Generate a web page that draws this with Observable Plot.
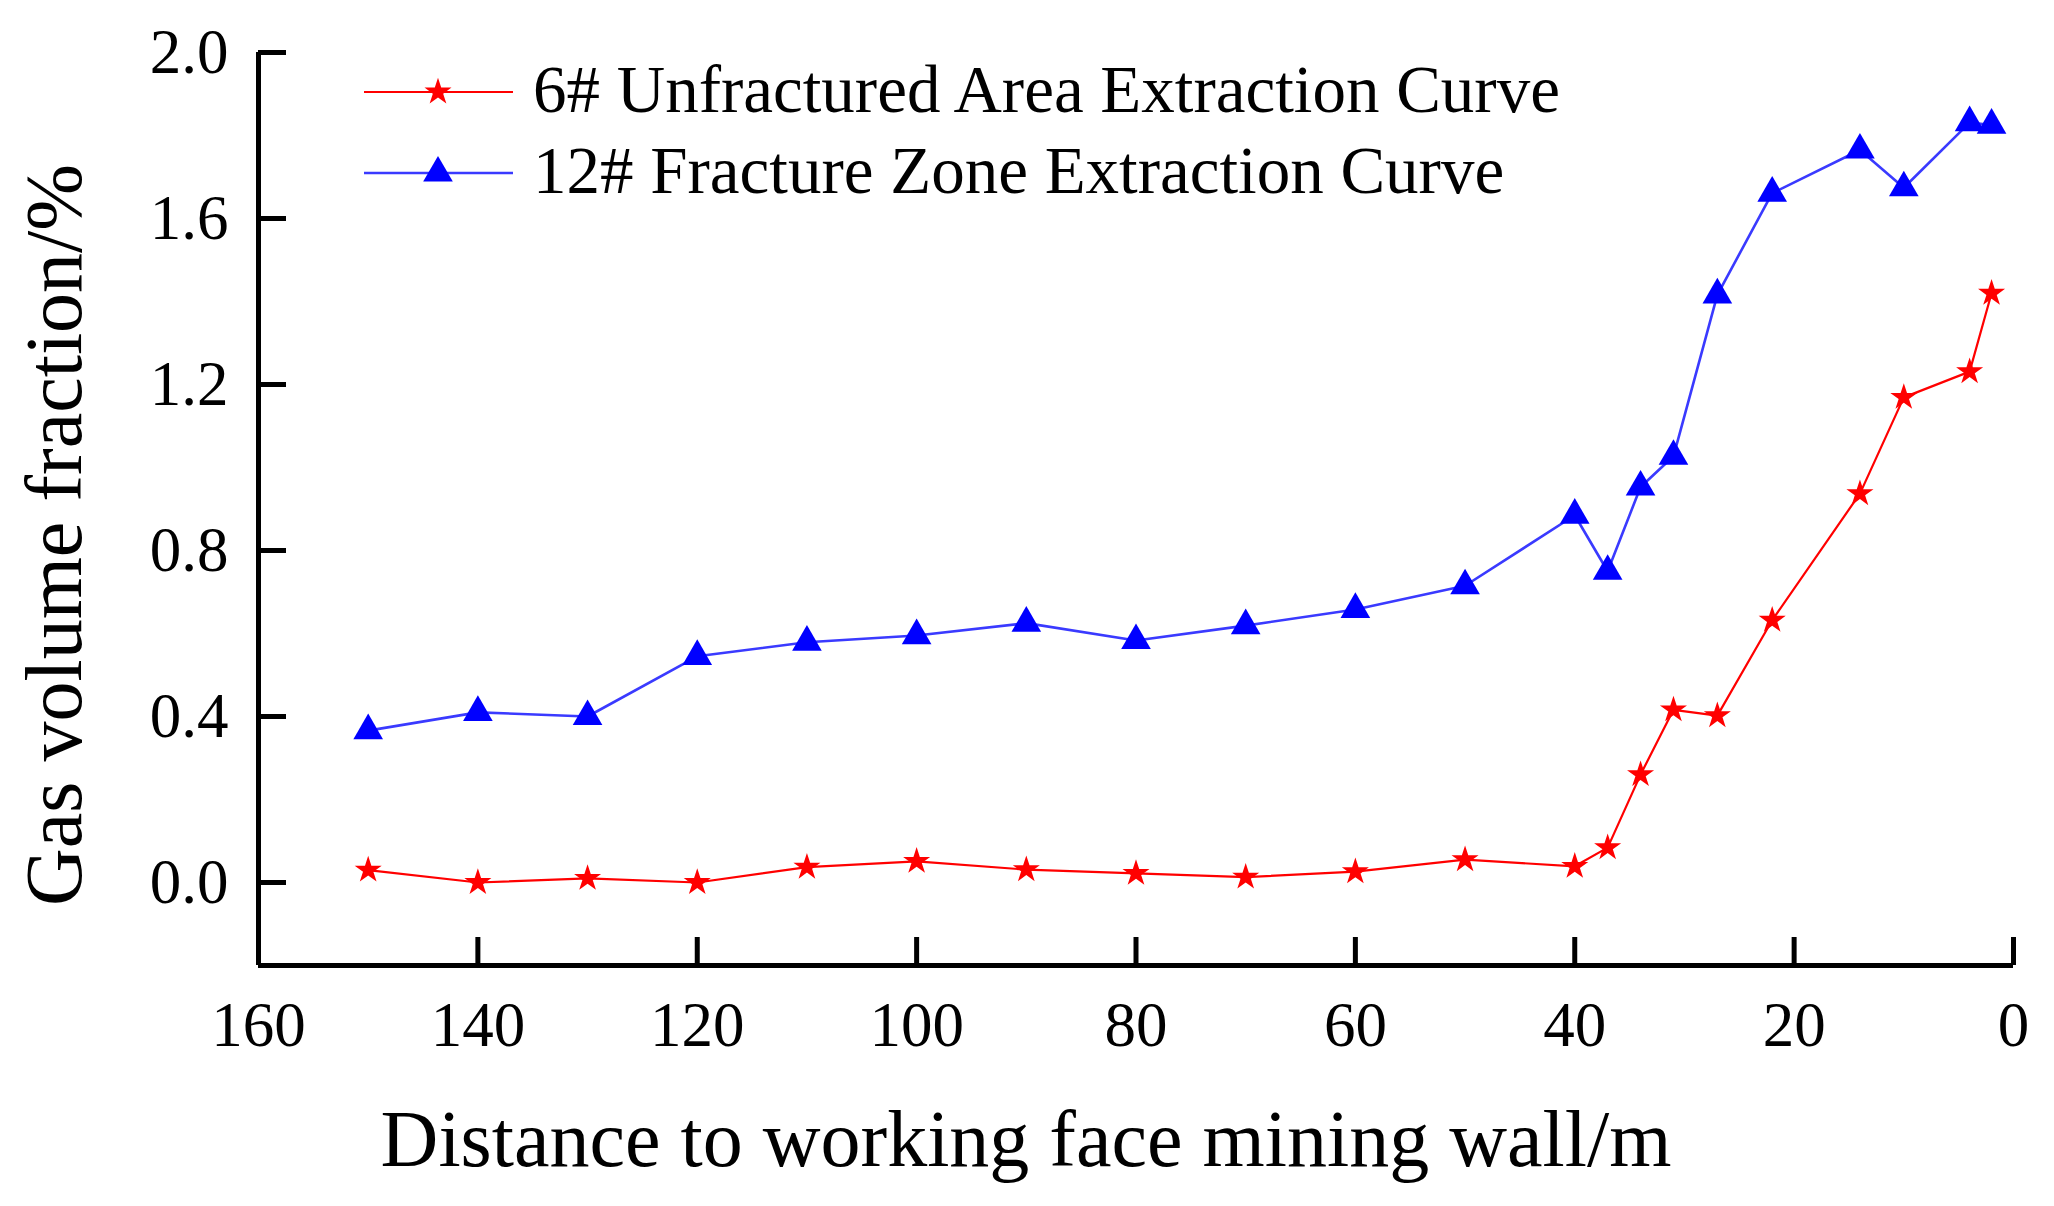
<!DOCTYPE html>
<html><head><meta charset="utf-8">
<script src="https://cdn.jsdelivr.net/npm/d3@7"></script>
<script src="https://cdn.jsdelivr.net/npm/@observablehq/plot@0.6"></script>
<style>
html,body{margin:0;padding:0;background:#fff;}
#wrap{position:relative;width:2054px;height:1206px;overflow:hidden;}
#legend{position:absolute;left:0;top:0;}
</style></head><body><div id="wrap"></div>
<script>
// Distance to working face (m)
const distance = [150,140,130,120,110,100,90,80,70,60,50,40,37,34,31,27,22,14,10,4,2];
// 6# Unfractured area (%)
const unfractured = [0.030,0.000,0.010,0.000,0.037,0.051,0.031,0.022,0.013,0.026,0.055,0.039,0.084,0.260,0.416,0.402,0.632,0.937,1.169,1.231,1.420];
// 12# Fracture zone (%)
const fracture = [0.366,0.410,0.400,0.545,0.579,0.595,0.625,0.583,0.619,0.658,0.715,0.885,0.750,0.953,1.027,1.416,1.661,1.765,1.674,1.831,1.825];
const xTicks = [160,140,120,100,80,60,40,20,0];
const yTicks = [0,0.4,0.8,1.2,1.6,2.0];
const seriesNames = ["6# Unfractured Area Extraction Curve","12# Fracture Zone Extraction Curve"];
const xTitle = "Distance to working face mining wall/m";
const yTitle = "Gas volume fraction/%";

const redData = distance.map((d,i)=>({x:d, y:unfractured[i]}));
const blueData = distance.map((d,i)=>({x:d, y:fracture[i]}));
const font = "'Liberation Serif', 'Times New Roman', serif";
const RED = "#ff0000", BLUE = "#0000ff", BLUE_LINE = "#3a3aff";
const STAR_R = 8.5, TRI_R = 11;

const chart = Plot.plot({
  width: 2054, height: 1206,
  marginLeft: 258, marginRight: 41, marginTop: 52, marginBottom: 241,
  style: {fontFamily: font, background: "white", color: "black", overflow: "visible"},
  x: {domain: [160, 0]},
  y: {domain: [-0.2, 2.0]},
  marks: [
    Plot.axisX(xTicks, {tickSize: -28, tickPadding: 64, fontSize: 63, strokeWidth: 5, label: null, stroke: "black", fill: "black"}),
    Plot.axisY(yTicks, {tickSize: -28, tickPadding: 58, fontSize: 63, strokeWidth: 5, tickFormat: d3.format(".1f"), label: null, stroke: "black", fill: "black"}),
    Plot.ruleX([160], {strokeWidth: 5, stroke: "black"}),
    Plot.ruleY([-0.2], {strokeWidth: 5, stroke: "black"}),
    Plot.line(redData, {x: "x", y: "y", stroke: RED, strokeWidth: 2.2}),
    Plot.line(blueData, {x: "x", y: "y", stroke: BLUE_LINE, strokeWidth: 2.6}),
    Plot.dot(redData, {x: "x", y: "y", symbol: "star", r: STAR_R, fill: RED, stroke: "none"}),
    Plot.dot(blueData, {x: "x", y: "y", symbol: "triangle", r: TRI_R, fill: BLUE, stroke: "none"}),
    Plot.text([xTitle], {frameAnchor: "bottom", dx: -110, dy: 200, lineAnchor: "bottom", fontSize: 80, fill: "black"}),
    Plot.text([yTitle], {frameAnchor: "left", rotate: -90, dx: -203, dy: 26, fontSize: 80, textAnchor: "middle", lineAnchor: "middle", fill: "black"})
  ]
});
const wrap = document.getElementById("wrap");
wrap.appendChild(chart);

// Legend overlay
const items = [
  {name: seriesNames[0], color: RED, line: RED, symbol: d3.symbolStar, size: STAR_R*STAR_R*Math.PI, ly: 92, ty: 112},
  {name: seriesNames[1], color: BLUE, line: BLUE_LINE, symbol: d3.symbolTriangle, size: TRI_R*TRI_R*Math.PI, ly: 173, ty: 193}
];
const leg = d3.select(wrap).append("svg").attr("id", "legend").attr("width", 2054).attr("height", 260);
const g = leg.selectAll("g").data(items).join("g");
g.append("line").attr("x1", 364).attr("x2", 513).attr("y1", d => d.ly).attr("y2", d => d.ly)
  .attr("stroke", d => d.line).attr("stroke-width", d => d.line === RED ? 2.2 : 2.6);
g.append("path").attr("transform", d => `translate(438,${d.ly})`)
  .attr("d", d => d3.symbol(d.symbol, d.size)()).attr("fill", d => d.color);
g.append("text").attr("x", 533).attr("y", d => d.ty).text(d => d.name)
  .attr("font-family", font).attr("font-size", 67).attr("fill", "black");
</script></body></html>
